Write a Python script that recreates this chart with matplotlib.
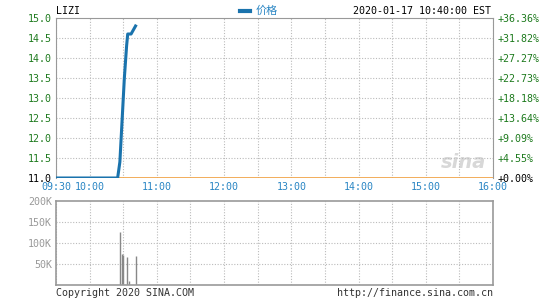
import matplotlib.pyplot as plt

# price series (time, price)
times = ["09:30", "10:25", "10:27", "10:29", "10:31", "10:33", "10:34", "10:37", "10:41"]
prices = [11.0, 11.0, 11.4, 12.45, 13.5, 14.3, 14.6, 14.6, 14.8]

# volume bars
vol_times = ["10:27", "10:29", "10:30", "10:33", "10:35", "10:41"]
volumes = [126000, 74000, 71000, 67000, 10000, 69000]

base_price = 11.0
price_ticks = [11.0, 11.5, 12.0, 12.5, 13.0, 13.5, 14.0, 14.5, 15.0]
vol_ticks = [50000, 100000, 150000, 200000]
vol_labels = ["50K", "100K", "150K", "200K"]
time_labels = ["09:30", "10:00", "11:00", "12:00", "13:00", "14:00", "15:00", "16:00"]


def to_min(t):
    h, m = t.split(":")
    return (int(h) - 9) * 60 + int(m) - 30


mono = "DejaVu Sans Mono"
fs = 7.2
green = "#1d7a1d"
blue = "#2a86c4"
gray = "#999999"

fig = plt.figure(figsize=(5.45, 3.0), dpi=100)
ax = fig.add_axes([56 / 545, 1 - 178 / 300, 437 / 545, 160 / 300])
axv = fig.add_axes([56 / 545, 1 - 285 / 300, 437 / 545, 84 / 300])

grid_x = list(range(0, 391, 30))

# price panel
ax.plot([to_min(t) for t in times], prices, color="#1a73ad", lw=2.2, zorder=3,
        solid_joinstyle="round")
ax.axhline(base_price, color="#f0a040", lw=1.2, zorder=2)
ax.set_xlim(0, 390)
ax.set_ylim(11.0, 15.0)
ax.set_yticks(price_ticks)
ax.set_yticklabels([f"{p:.1f}" for p in price_ticks], fontfamily=mono, fontsize=fs)
for lbl, p in zip(ax.get_yticklabels(), price_ticks):
    lbl.set_color("black" if p == base_price else green)
ax.set_xticks([to_min(t) for t in time_labels])
ax.set_xticklabels(time_labels, fontfamily=mono, fontsize=fs, color=blue)
ax.tick_params(length=0, pad=3)
for gx in grid_x:
    ax.axvline(gx, color="#bbbbbb", lw=0.8, ls=(0, (1, 1.5)), zorder=1)
for p in price_ticks[1:-1]:
    ax.axhline(p, color="#bbbbbb", lw=0.8, ls=(0, (1, 1.5)), zorder=1)
for s in ax.spines.values():
    s.set_color(gray)
ax.spines["bottom"].set_visible(False)

ax2 = ax.twinx()
ax2.set_ylim(11.0, 15.0)
ax2.set_yticks(price_ticks)
ax2.set_yticklabels([f"+{(p / base_price - 1) * 100:.2f}%" for p in price_ticks],
                    fontfamily=mono, fontsize=fs)
for lbl, p in zip(ax2.get_yticklabels(), price_ticks):
    lbl.set_color("black" if p == base_price else green)
ax2.tick_params(length=0, pad=3)
for s in ax2.spines.values():
    s.set_visible(False)

ax.text(0.985, 0.04, "sina", transform=ax.transAxes, ha="right", va="bottom",
        fontsize=14, fontstyle="italic", fontweight="bold", color="#d8d8d8", zorder=0)

# header
fig.text(56 / 545, 1 - 11 / 300, "LIZI", fontfamily=mono, fontsize=fs, va="center")
fig.text(491 / 545, 1 - 11 / 300, "2020-01-17 10:40:00 EST", fontfamily=mono,
         fontsize=fs, va="center", ha="right")
fig.add_artist(plt.Line2D([240 / 545, 250 / 545], [1 - 11 / 300, 1 - 11 / 300],
                          color="#1a73ad", lw=3))
fig.text(256 / 545, 1 - 11 / 300, "价格", fontfamily=["Noto Sans CJK SC", "DejaVu Sans"],
         fontsize=8, va="center", color=blue)

# volume panel
axv.vlines([to_min(t) for t in vol_times], 0, volumes, color="#888888", lw=1)
axv.set_xlim(0, 390)
axv.set_ylim(0, 200000)
axv.set_yticks(vol_ticks)
axv.set_yticklabels(vol_labels, fontfamily=mono, fontsize=fs, color=gray)
axv.set_xticks([])
axv.tick_params(length=0, pad=3)
for gx in grid_x:
    axv.axvline(gx, color="#bbbbbb", lw=0.8, ls=(0, (1, 1.5)), zorder=0)
for v in vol_ticks[:-1]:
    axv.axhline(v, color="#bbbbbb", lw=0.8, ls=(0, (1, 1.5)), zorder=0)
for s in axv.spines.values():
    s.set_color(gray)
    s.set_linewidth(1.2)

fig.text(56 / 545, 1 - 293 / 300, "Copyright 2020 SINA.COM", fontfamily=mono,
         fontsize=fs, va="center", color="#333333")
fig.text(493 / 545, 1 - 293 / 300, "http://finance.sina.com.cn", fontfamily=mono,
         fontsize=fs, va="center", ha="right", color="#333333")

fig.savefig("out.png", dpi=100)
